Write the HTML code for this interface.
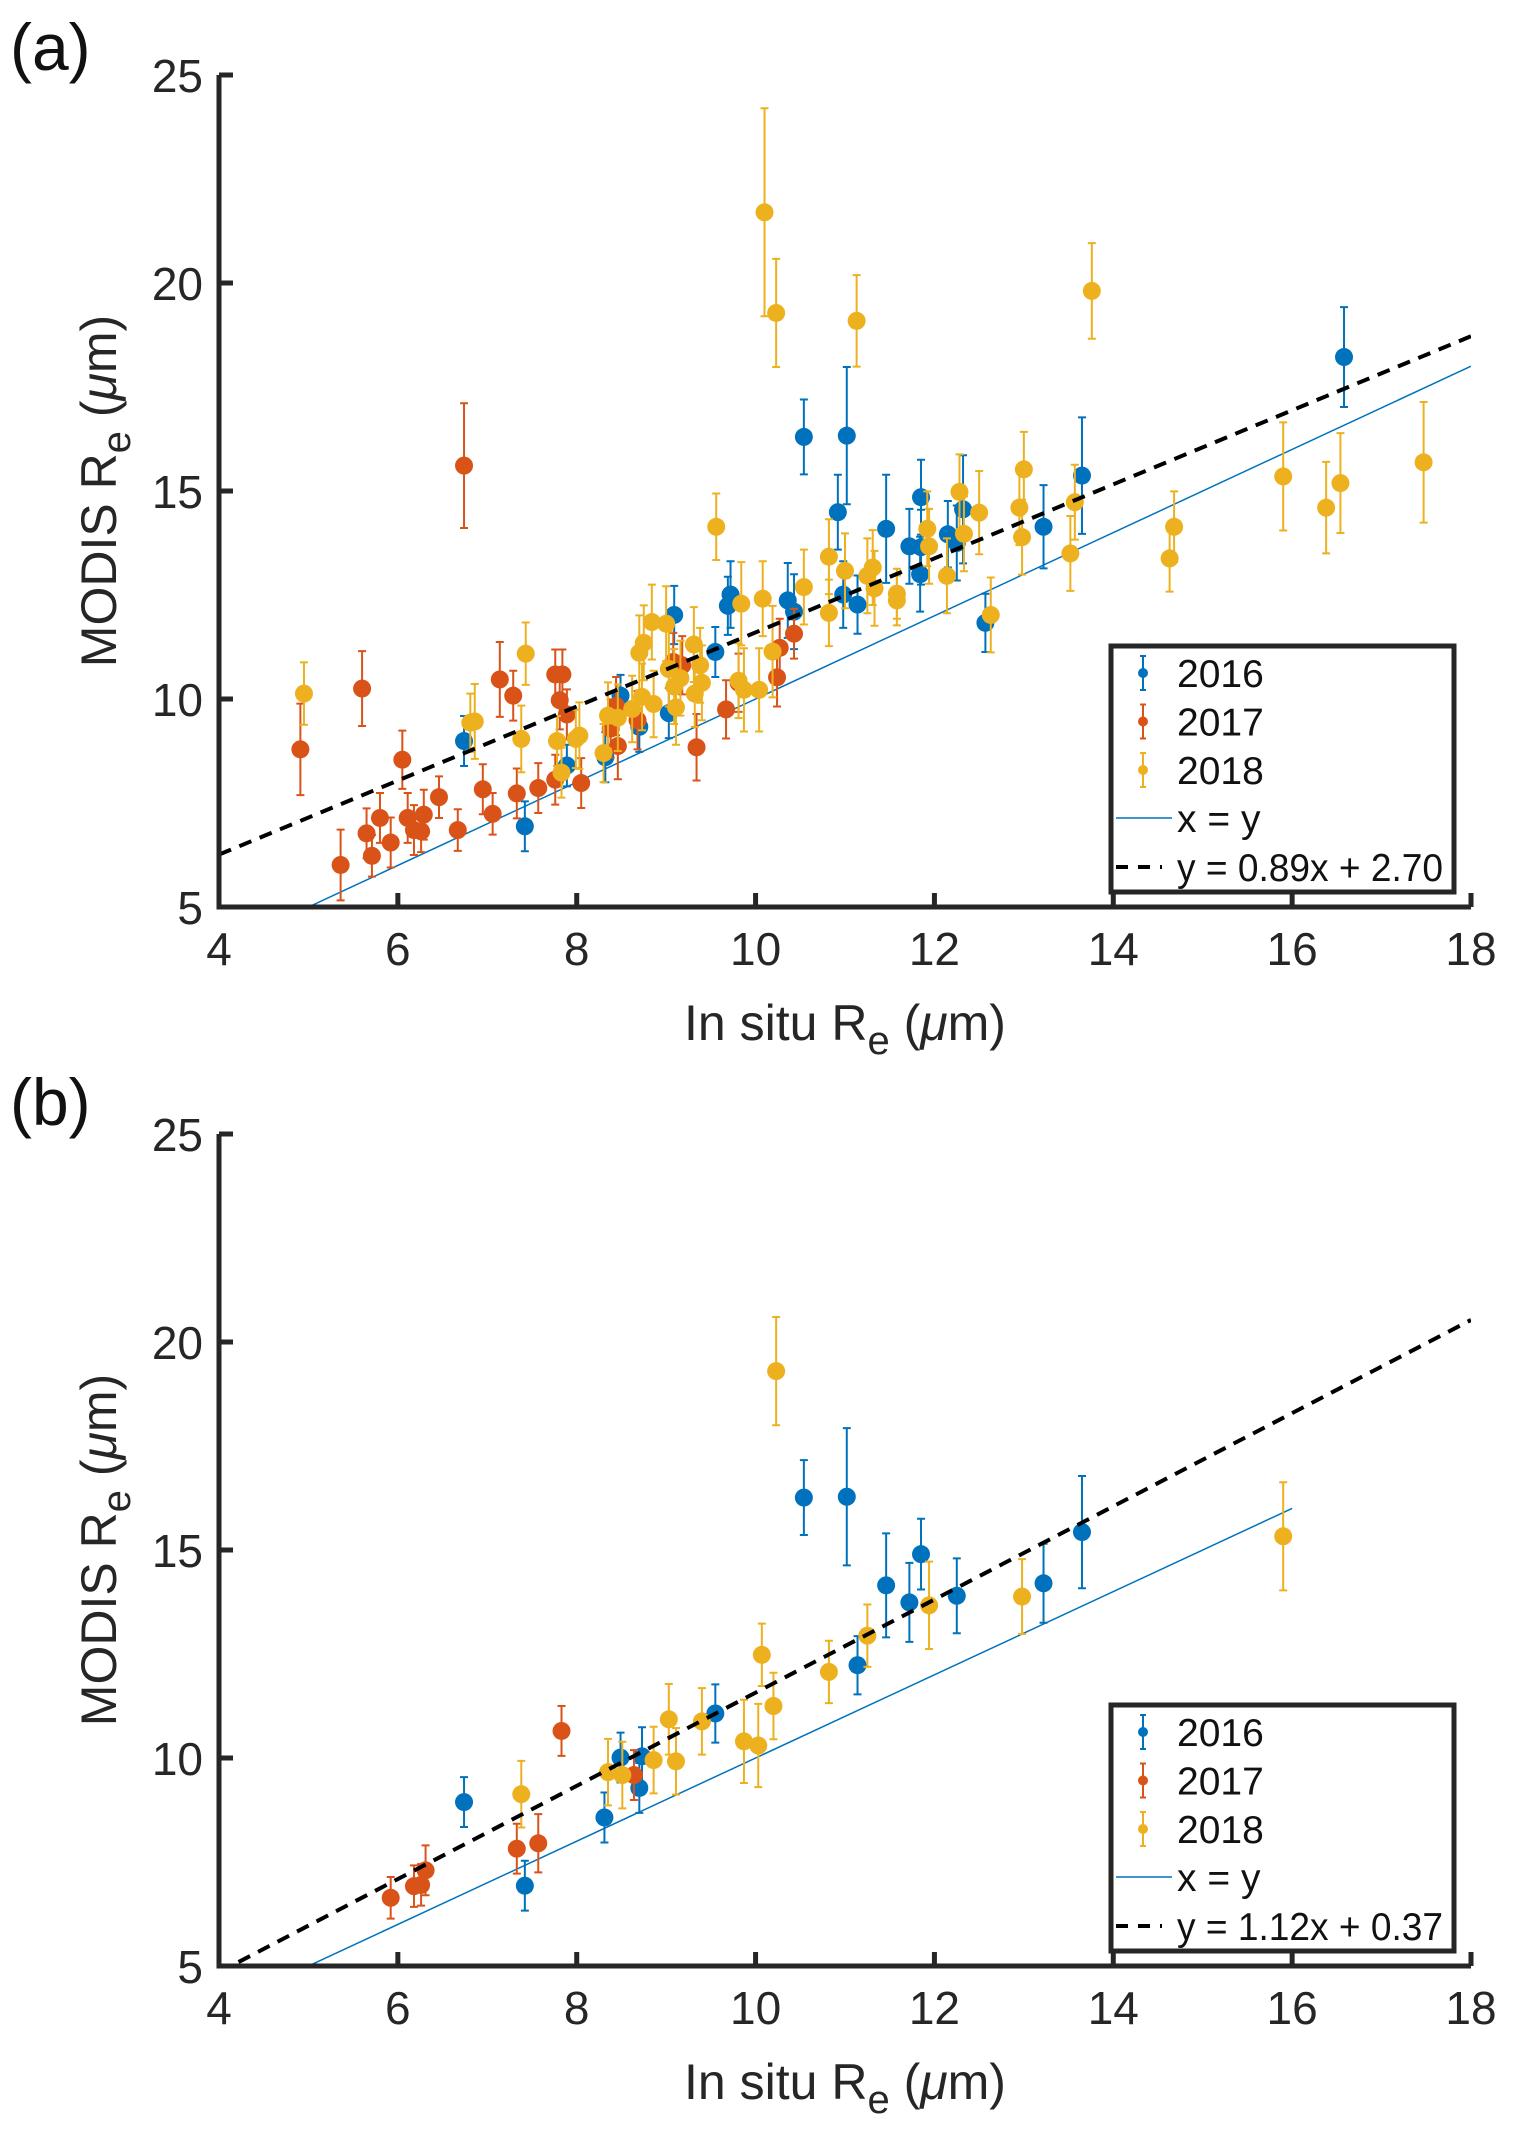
<!DOCTYPE html>
<html><head><meta charset="utf-8"><style>
html,body{margin:0;padding:0;background:#fff;}
svg{display:block;font-family:"Liberation Sans",Arial,sans-serif;}
</style></head><body>
<svg id="chart" width="1515" height="2147" viewBox="0 0 1515 2147"></svg>
<script>
// ---------- Panel (a) data ----------
const a16x=[6.74,7.42,7.89,8.32,8.49,8.7,9.03,9.09,9.55,9.69,9.72,10.36,10.43,10.54,10.92,10.98,11.02,11.14,11.46,11.72,11.85,11.84,11.85,12.15,12.25,12.32,12.57,13.22,13.65,16.58];
const a16y=[8.99,6.94,8.4,8.6,10.08,9.33,9.66,12.02,11.13,12.24,12.51,12.37,12.1,16.3,14.49,12.51,16.33,12.27,14.09,13.67,14.85,13.0,13.65,13.96,13.75,14.56,11.83,14.14,15.37,18.22];
const a16e=[0.6,0.6,0.5,0.6,0.5,0.6,0.6,0.7,0.6,0.7,0.8,0.9,0.9,0.9,0.9,0.8,1.65,0.7,1.3,0.9,0.9,0.9,0.9,0.8,0.9,1.3,0.7,1.0,1.4,1.2];
const a17x=[4.91,5.36,5.6,5.65,5.71,5.8,5.92,6.05,6.11,6.18,6.29,6.26,6.46,6.67,6.74,6.95,7.06,7.14,7.29,7.33,7.57,7.76,7.76,7.81,7.84,7.89,8.05,8.38,8.44,8.46,8.68,9.08,9.18,9.34,9.67,9.81,10.24,10.27,10.43];
const a17y=[8.79,6.01,10.25,6.77,6.23,7.14,6.55,8.54,7.14,6.85,7.22,6.82,7.64,6.85,15.61,7.83,7.24,10.47,10.08,7.73,7.86,8.06,10.59,9.97,10.59,9.63,7.98,9.29,9.83,8.87,9.49,10.89,10.81,8.84,9.75,10.39,10.52,11.23,11.57];
const a17e=[1.1,0.85,0.9,0.6,0.5,0.6,0.6,0.7,0.6,0.6,0.6,0.5,0.5,0.5,1.5,0.6,0.5,0.9,0.6,0.6,0.6,0.6,0.6,0.7,0.6,0.6,0.6,0.7,0.7,0.8,0.7,0.7,0.7,0.8,0.7,0.7,0.7,0.7,0.6];
const a18x=[4.95,6.81,6.86,7.38,7.43,7.78,7.83,7.99,8.03,8.3,8.35,8.46,8.62,8.7,8.75,8.73,8.84,8.86,9.0,9.03,9.09,9.11,9.16,9.31,9.32,9.38,9.4,9.56,9.81,9.84,9.87,10.04,10.08,10.1,10.19,10.23,10.54,10.82,10.82,11.0,11.13,11.25,11.31,11.33,11.58,11.58,11.92,11.94,12.14,12.28,12.33,12.5,12.63,12.95,12.98,13.0,13.52,13.57,13.76,14.63,14.68,15.9,16.38,16.54,17.47];
const a18y=[10.13,9.43,9.46,9.04,11.09,8.99,8.23,9.04,9.12,8.7,9.6,9.55,9.76,11.11,11.35,10.05,11.85,9.88,11.81,10.72,10.3,9.8,10.5,11.31,10.13,10.81,10.39,14.14,10.44,12.29,10.22,10.22,12.41,21.7,11.14,19.28,12.69,12.07,13.42,13.08,19.09,12.96,13.16,12.66,12.53,12.37,14.09,13.67,12.96,14.98,13.97,14.48,12.02,14.6,13.89,15.52,13.5,14.73,19.81,13.38,14.14,15.35,14.6,15.19,15.69];
const a18e=[0.75,0.7,0.9,0.8,0.75,0.6,0.6,0.7,0.8,0.7,0.8,0.8,0.8,0.9,0.9,0.8,0.9,0.8,0.9,0.9,0.9,0.9,0.9,0.9,0.8,0.9,0.9,0.8,0.9,1.0,1.0,1.0,0.9,2.5,1.1,1.3,0.9,0.8,0.9,0.9,1.1,0.9,0.9,0.9,0.6,0.6,0.9,0.9,0.9,0.9,0.9,1.0,0.9,0.9,0.9,0.9,0.9,0.9,1.15,0.8,0.85,1.3,1.1,1.2,1.45];
// ---------- Panel (b) data ----------
const b16x=[6.74,7.42,8.31,8.49,8.7,8.73,9.55,10.54,11.02,11.14,11.46,11.72,11.85,12.25,13.22,13.65];
const b16y=[8.94,6.93,8.57,10.01,9.28,10.04,11.07,16.26,16.28,12.23,14.15,13.74,14.9,13.9,14.2,15.43];
const b16e=[0.6,0.6,0.6,0.6,0.6,0.7,0.7,0.9,1.65,0.7,1.25,0.95,0.85,0.9,0.95,1.35];
const b17x=[5.92,6.18,6.26,6.31,7.33,7.57,7.83,8.64];
const b17y=[6.64,6.92,6.95,7.3,7.82,7.95,10.65,9.59];
const b17e=[0.5,0.5,0.5,0.6,0.6,0.7,0.6,0.6];
const b18x=[7.38,8.35,8.51,8.86,9.03,9.11,9.4,9.87,10.03,10.07,10.2,10.23,10.82,11.25,11.94,12.98,15.9];
const b18y=[9.13,9.66,9.59,9.95,10.93,9.92,10.88,10.4,10.3,12.48,11.25,19.3,12.07,12.94,13.67,13.88,15.33];
const b18e=[0.8,0.8,0.8,0.8,0.85,0.8,0.8,1.0,1.0,0.75,0.8,1.3,0.75,0.75,1.05,0.9,1.3];
const xTicks=[4,6,8,10,12,14,16,18];
const yTicks=[5,10,15,20,25];
const fitA=[0.89,2.70], fitB=[1.12,0.37];
const cols={c16:"#0072BD",c17:"#D95319",c18:"#EDB120"};

const NS="http://www.w3.org/2000/svg";
const svg=document.getElementById('chart');
function mk(tag,attrs,parent){const e=document.createElementNS(NS,tag);for(const k in attrs)e.setAttribute(k,attrs[k]);(parent||svg).appendChild(e);return e;}

function panel(label,top,bottom,series,fit,idStart,idLine,legendY,lbl,lblY){
  const L=219,R=1471;
  const sx=v=>L+(v-4)*(R-L)/14;
  const sy=v=>bottom-(v-5)*(bottom-top)/20;
  const g=mk('g',{});
  
  
  const t=mk('text',{x:10,y:lblY,'font-size':66,fill:'#111'},g);t.textContent='('+label+')';
  
  
  const cp=mk('clipPath',{id:'clip'+label},g);
  mk('rect',{x:L,y:top,width:R-L,height:bottom-top},cp);
  const xy=mk('line',{x1:sx(idStart),y1:sy(idStart),x2:sx(idLine),y2:sy(idLine),stroke:'#0072BD','stroke-width':1.5,'clip-path':'url(#clip'+label+')'},g);
  
  
  const names=['2016','2017','2018'];
  series.forEach((s,i)=>{
    const sg=mk('g',{},g);
    
    
    for(let k=0;k<s.x.length;k++){
      const cx=sx(s.x[k]),cy=sy(s.y[k]),y1=sy(s.y[k]+s.e[k]),y2=sy(Math.max(s.y[k]-s.e[k],4.9));
      mk('path',{d:`M${cx},${y1}V${y2}M${cx-4},${y1}H${cx+4}M${cx-4},${y2}H${cx+4}`,stroke:s.c,'stroke-width':2,fill:'none'},sg);
      const p=mk('circle',{cx:cx,cy:cy,r:9,fill:s.c},sg);
      
      
    }
  });
  const fl=mk('line',{x1:sx(4),y1:sy(fit[0]*4+fit[1]),x2:sx(18),y2:sy(fit[0]*18+fit[1]),stroke:'#000','stroke-width':4,'stroke-dasharray':'13 9','clip-path':'url(#clip'+label+')'},g);
  
  
  const ax=mk('path',{d:`M${L},${top}V${bottom}H${R}`,stroke:'#262626','stroke-width':5,fill:'none'},g);
  
  
  xTicks.forEach(v=>{
    mk('line',{x1:sx(v),y1:bottom,x2:sx(v),y2:bottom-14,stroke:'#262626','stroke-width':5},g);
    const tl=mk('text',{x:sx(v),y:bottom+58,'font-size':46,'text-anchor':'middle',fill:'#262626'},g);tl.textContent=v;
    
    
  });
  yTicks.forEach(v=>{
    mk('line',{x1:L,y1:sy(v),x2:L+14,y2:sy(v),stroke:'#262626','stroke-width':5},g);
    const tl=mk('text',{x:L-16,y:sy(v)+17,'font-size':46,'text-anchor':'end',fill:'#262626'},g);tl.textContent=v;
    
    
  });
  const xt=mk('text',{x:845,y:bottom+133,'font-size':50,'text-anchor':'middle',fill:'#262626'},g);
  xt.innerHTML='In situ R<tspan dy="14" font-size="40">e</tspan><tspan dy="-14"> (</tspan><tspan font-style="italic">μ</tspan>m)';
  
  
  const cyy=(top+bottom)/2;
  const yt=mk('text',{x:0,y:0,'font-size':50,'text-anchor':'middle',fill:'#262626',transform:`translate(116,${cyy}) rotate(-90)`},g);
  yt.innerHTML='MODIS R<tspan dy="14" font-size="40">e</tspan><tspan dy="-14"> (</tspan><tspan font-style="italic">μ</tspan>m)';
  
  
  const lg=mk('g',{},g);
  
  
  const lt=legendY;
  mk('rect',{x:1111,y:lt,width:343,height:246,fill:'#fff',stroke:'#262626','stroke-width':5},lg);
  const rows=[['2016',cols.c16],['2017',cols.c17],['2018',cols.c18]];
  rows.forEach((r,i)=>{
    const y=lt+27+i*48.5;
    mk('path',{d:`M1143,${y-17}V${y+17}M1140,${y-17}H1146M1140,${y+17}H1146`,stroke:r[1],'stroke-width':2},lg);
    mk('circle',{cx:1143,cy:y,r:5,fill:r[1]},lg);
    const tx=mk('text',{x:1177,y:y+14,'font-size':39,fill:'#111'},lg);tx.textContent=r[0];
    
    
  });
  let y=lt+172;
  mk('line',{x1:1116,y1:y,x2:1172,y2:y,stroke:'#0072BD','stroke-width':1.5},lg);
  let tx=mk('text',{x:1177,y:y+14,'font-size':39,fill:'#111'},lg);tx.textContent='x = y';
  
  
  y=lt+221;
  mk('line',{x1:1116,y1:y,x2:1162,y2:y,stroke:'#000','stroke-width':4,'stroke-dasharray':'12 10'},lg);
  tx=mk('text',{x:1177,y:y+14,'font-size':39,fill:'#111',textLength:266,lengthAdjust:'spacingAndGlyphs'},lg);tx.textContent=lbl;
  
  
}
panel('a',75,907,[
  {x:a16x,y:a16y,e:a16e,c:cols.c16},
  {x:a17x,y:a17y,e:a17e,c:cols.c17},
  {x:a18x,y:a18y,e:a18e,c:cols.c18}],fitA,5,18,646,'y = 0.89x + 2.70',70);
panel('b',1134,1966,[
  {x:b16x,y:b16y,e:b16e,c:cols.c16},
  {x:b17x,y:b17y,e:b17e,c:cols.c17},
  {x:b18x,y:b18y,e:b18e,c:cols.c18}],fitB,4.9,16,1705,'y = 1.12x + 0.37',1125);
</script>
</body></html>
